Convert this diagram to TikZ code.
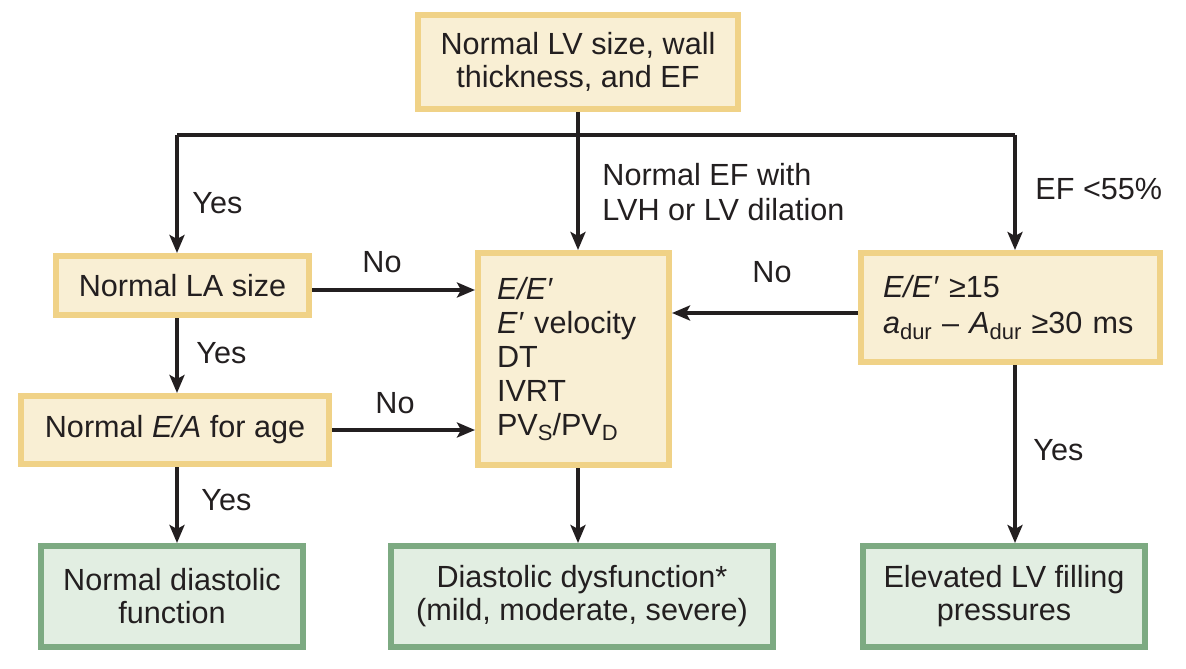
\documentclass[tikz,border=0pt]{standalone}
\usepackage{fontspec}
\setmainfont{Liberation Sans}
\usetikzlibrary{arrows.meta,calc}
\definecolor{ybord}{RGB}{240,210,135}
\definecolor{yfill}{RGB}{249,239,212}
\definecolor{gbord}{RGB}{125,170,130}
\definecolor{gfill}{RGB}{226,238,226}
\definecolor{ink}{RGB}{35,31,32}
\newcommand\mysub[1]{\raisebox{-0.35ex}{\fontsize{11}{11}\selectfont #1}}
\tikzset{
  txt/.style={font=\fontsize{15.3}{16.5}\selectfont, text=ink},
  ybox/.style={txt, draw=ybord, fill=yfill, line width=3pt, inner sep=0pt, align=center},
  gbox/.style={txt, draw=gbord, fill=gfill, line width=3pt, inner sep=0pt, align=center},
  arr/.style={draw=ink, line width=1.8pt, -{Stealth[length=9pt,width=7.5pt,inset=2pt]}},
  ln/.style={draw=ink, line width=1.8pt},
  lbl/.style={txt, inner sep=0pt}
}
\begin{document}
\begin{tikzpicture}[x=0.5pt,y=-0.5pt]
\useasboundingbox (0,0) rectangle (1186,668);
% boxes
\node[ybox, minimum width=160pt, minimum height=47pt] (top) at (578,62) {Normal LV size, wall\\thickness, and EF};
\node[ybox, minimum width=126.5pt, minimum height=29.5pt] (la) at (182.5,285.5) {Normal LA size};
\node[ybox, minimum width=154pt, minimum height=34pt] (ea) at (175,430) {Normal \textit{E/A} for age};
\node[ybox, minimum width=95.5pt, minimum height=106pt, inner xsep=9.5pt, text width=76.5pt, align=left, font=\fontsize{15.3}{17}\selectfont] (ctr) at (573.5,359)
  {\textit{E/E′}\\\textit{E′} velocity\\DT\\IVRT\\PV\mysub{S}/PV\mysub{D}};
\node[ybox, minimum width=149.5pt, minimum height=54.5pt, inner xsep=11pt, text width=127.5pt, align=left, font=\fontsize{15.3}{18}\selectfont] (rt) at (1010.5,307.5)
  {\textit{E/E′} ≥15\\\textit{a}\mysub{dur} – \textit{A}\mysub{dur} ≥30 ms};
\node[gbox, minimum width=131pt, minimum height=50.5pt] (b1) at (172,596.5) {Normal diastolic\\function};
\node[gbox, minimum width=191pt, minimum height=50.5pt] (b2) at (582,596.5) {Diastolic dysfunction*\\(mild, moderate, severe)};
\node[gbox, minimum width=141pt, minimum height=50.5pt] (b3) at (1004,596.5) {Elevated LV filling\\pressures};
% junctions
\coordinate (jl) at (177,135);
\coordinate (jr) at (1015,135);
\coordinate (jm) at (578,135);
% connectors
\draw[ln] (jl) -- (jr);
\draw[arr] (top.south) -- (top.south |- ctr.north);
\draw[arr] (jl) -- (jl |- la.north);
\draw[arr] (jr) -- (jr |- rt.north);
\draw[arr] ($(la.east)+(0,4.5)$) -- ($(la.east -| ctr.west)+(0,4.5)$);
\draw[arr] (ea.east) -- (ea.east -| ctr.west);
\draw[arr] ($(rt.west)+(0,5.5)$) -- ($(rt.west -| ctr.east)+(0,5.5)$);
\draw[arr] (jl |- la.south) -- (jl |- ea.north);
\draw[arr] (jl |- ea.south) -- (jl |- b1.north);
\draw[arr] (jm |- ctr.south) -- (jm |- b2.north);
\draw[arr] (jr |- rt.south) -- (jr |- b3.north);
% labels
\node[lbl, anchor=west] (y1) at (192,203) {Yes};
\node[lbl, anchor=west] (y2) at (196,353) {Yes};
\node[lbl, anchor=west] (y3) at (201,500) {Yes};
\node[lbl, anchor=west] (y4) at (1033,450) {Yes};
\node[lbl] (n1) at (382,262) {No};
\node[lbl] (n2) at (395,403) {No};
\node[lbl] (n3) at (772,272) {No};
\node[lbl, anchor=west, align=left, font=\fontsize{15.3}{17.5}\selectfont] (nef) at (602,192) {Normal EF with\\LVH or LV dilation};
\node[lbl, anchor=west] (ef) at (1035,189) {EF <55\%};
\end{tikzpicture}
\end{document}
